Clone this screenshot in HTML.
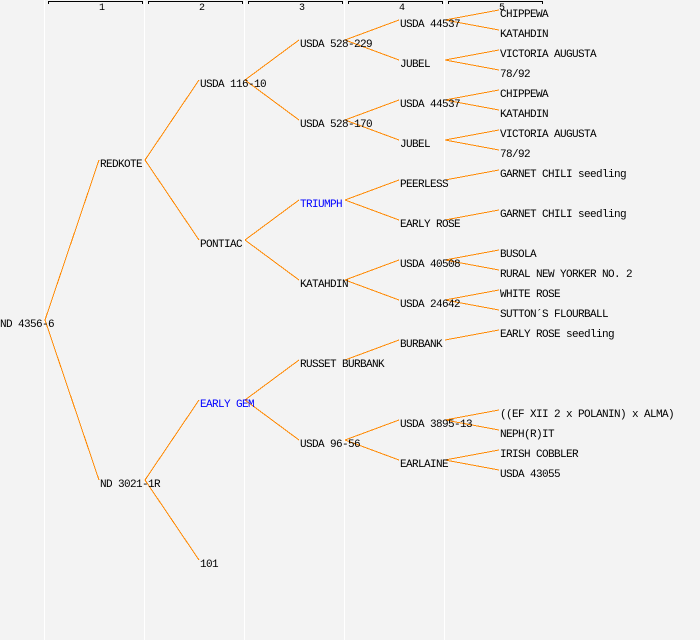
<!DOCTYPE html>
<html>
<head>
<meta charset="utf-8">
<style>
  html, body { margin: 0; padding: 0; background: #f3f3f3; }
  svg { display: block; }
  text { font-family: "Liberation Mono", "DejaVu Sans Mono", monospace; font-size: 11px; letter-spacing: -0.6px; fill: #000; }
  text.b { fill: #0000ff; }
  text.h { font-size: 10px; letter-spacing: 0; }
</style>
</head>
<body>
<svg width="700" height="640" viewBox="0 0 700 640" xmlns="http://www.w3.org/2000/svg">
  <rect x="0" y="0" width="700" height="640" fill="#f3f3f3"/>
  <!-- column separators -->
  <g fill="#ffffff">
    <rect x="44" y="0" width="1" height="640"/>
    <rect x="144" y="0" width="1" height="640"/>
    <rect x="244" y="0" width="1" height="640"/>
    <rect x="344" y="0" width="1" height="640"/>
    <rect x="444" y="0" width="1" height="640"/>
  </g>
  <!-- header brackets -->
  <g stroke="#000" stroke-width="1" fill="none" shape-rendering="crispEdges">
    <path d="M48.5,4 V1.5 H142.5 V4"/>
    <path d="M148.5,4 V1.5 H242.5 V4"/>
    <path d="M248.5,4 V1.5 H342.5 V4"/>
    <path d="M348.5,4 V1.5 H442.5 V4"/>
    <path d="M448.5,4 V1.5 H542.5 V4"/>
  </g>
  <text class="h" x="99" y="10">1</text>
  <text class="h" x="199" y="10">2</text>
  <text class="h" x="299" y="10">3</text>
  <text class="h" x="399" y="10">4</text>
  <text class="h" x="499" y="10">5</text>

  <!-- connectors -->
  <g stroke="#ff8800" stroke-width="1" fill="none" shape-rendering="crispEdges">
    <line x1="45" y1="320" x2="99" y2="160"/>
    <line x1="45" y1="320" x2="99" y2="480"/>

    <line x1="145" y1="160" x2="199" y2="80"/>
    <line x1="145" y1="160" x2="199" y2="240"/>
    <line x1="145" y1="480" x2="199" y2="400"/>
    <line x1="145" y1="480" x2="199" y2="560"/>

    <line x1="245" y1="80" x2="299" y2="40"/>
    <line x1="245" y1="80" x2="299" y2="120"/>
    <line x1="245" y1="240" x2="299" y2="200"/>
    <line x1="245" y1="240" x2="299" y2="280"/>
    <line x1="245" y1="400" x2="299" y2="360"/>
    <line x1="245" y1="400" x2="299" y2="440"/>

    <line x1="345" y1="40" x2="399" y2="20"/>
    <line x1="345" y1="40" x2="399" y2="60"/>
    <line x1="345" y1="120" x2="399" y2="100"/>
    <line x1="345" y1="120" x2="399" y2="140"/>
    <line x1="345" y1="200" x2="399" y2="180"/>
    <line x1="345" y1="200" x2="399" y2="220"/>
    <line x1="345" y1="280" x2="399" y2="260"/>
    <line x1="345" y1="280" x2="399" y2="300"/>
    <line x1="345" y1="360" x2="399" y2="340"/>
    <line x1="345" y1="440" x2="399" y2="420"/>
    <line x1="345" y1="440" x2="399" y2="460"/>

    <line x1="445" y1="20" x2="499" y2="10"/>
    <line x1="445" y1="20" x2="499" y2="30"/>
    <line x1="445" y1="60" x2="499" y2="50"/>
    <line x1="445" y1="60" x2="499" y2="70"/>
    <line x1="445" y1="100" x2="499" y2="90"/>
    <line x1="445" y1="100" x2="499" y2="110"/>
    <line x1="445" y1="140" x2="499" y2="130"/>
    <line x1="445" y1="140" x2="499" y2="150"/>
    <line x1="445" y1="180" x2="499" y2="170"/>
    <line x1="445" y1="220" x2="499" y2="210"/>
    <line x1="445" y1="260" x2="499" y2="250"/>
    <line x1="445" y1="260" x2="499" y2="270"/>
    <line x1="445" y1="300" x2="499" y2="290"/>
    <line x1="445" y1="300" x2="499" y2="310"/>
    <line x1="445" y1="340" x2="499" y2="330"/>
    <line x1="445" y1="420" x2="499" y2="410"/>
    <line x1="445" y1="420" x2="499" y2="430"/>
    <line x1="445" y1="460" x2="499" y2="450"/>
    <line x1="445" y1="460" x2="499" y2="470"/>
  </g>

  <!-- nodes -->
  <text x="0" y="327">ND 4356-6</text>

  <text x="100" y="167">REDKOTE</text>
  <text x="100" y="487">ND 3021-1R</text>

  <text x="200" y="87">USDA 116-10</text>
  <text x="200" y="247">PONTIAC</text>
  <text class="b" x="200" y="407">EARLY GEM</text>
  <text x="200" y="567">101</text>

  <text x="300" y="47">USDA 528-229</text>
  <text x="300" y="127">USDA 528-170</text>
  <text class="b" x="300" y="207">TRIUMPH</text>
  <text x="300" y="287">KATAHDIN</text>
  <text x="300" y="367">RUSSET BURBANK</text>
  <text x="300" y="447">USDA 96-56</text>

  <text x="400" y="27">USDA 44537</text>
  <text x="400" y="67">JUBEL</text>
  <text x="400" y="107">USDA 44537</text>
  <text x="400" y="147">JUBEL</text>
  <text x="400" y="187">PEERLESS</text>
  <text x="400" y="227">EARLY ROSE</text>
  <text x="400" y="267">USDA 40508</text>
  <text x="400" y="307">USDA 24642</text>
  <text x="400" y="347">BURBANK</text>
  <text x="400" y="427">USDA 3895-13</text>
  <text x="400" y="467">EARLAINE</text>

  <text x="500" y="17">CHIPPEWA</text>
  <text x="500" y="37">KATAHDIN</text>
  <text x="500" y="57">VICTORIA AUGUSTA</text>
  <text x="500" y="77">78/92</text>
  <text x="500" y="97">CHIPPEWA</text>
  <text x="500" y="117">KATAHDIN</text>
  <text x="500" y="137">VICTORIA AUGUSTA</text>
  <text x="500" y="157">78/92</text>
  <text x="500" y="177">GARNET CHILI seedling</text>
  <text x="500" y="217">GARNET CHILI seedling</text>
  <text x="500" y="257">BUSOLA</text>
  <text x="500" y="277">RURAL NEW YORKER NO. 2</text>
  <text x="500" y="297">WHITE ROSE</text>
  <text x="500" y="317">SUTTON´S FLOURBALL</text>
  <text x="500" y="337">EARLY ROSE seedling</text>
  <text x="500" y="417">((EF XII 2 x POLANIN) x ALMA)</text>
  <text x="500" y="437">NEPH(R)IT</text>
  <text x="500" y="457">IRISH COBBLER</text>
  <text x="500" y="477">USDA 43055</text>
</svg>
</body>
</html>
